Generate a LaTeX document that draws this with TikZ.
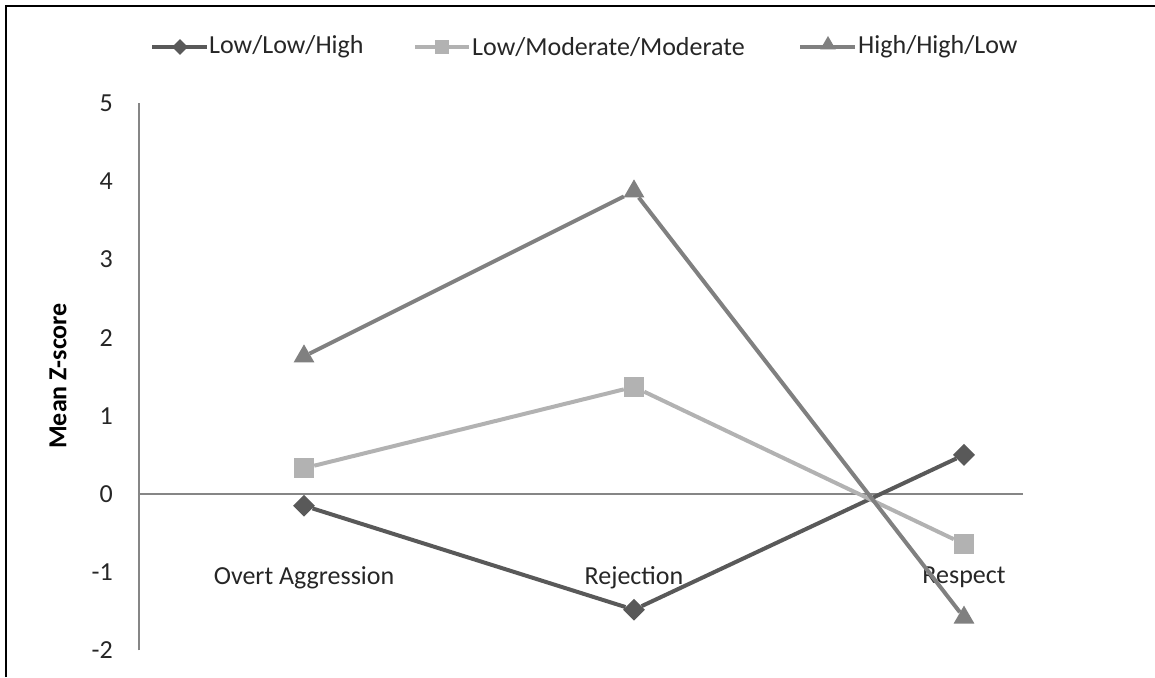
\documentclass[tikz,border=0pt]{standalone}
\usepackage{fontspec}
\setmainfont{Carlito}
\usetikzlibrary{shapes.geometric}
\definecolor{serA}{HTML}{595959}
\definecolor{serB}{HTML}{B2B2B2}
\definecolor{serC}{HTML}{808080}
\definecolor{axisgray}{HTML}{868686}
\tikzset{
  lbl/.style={font=\fontsize{26}{30}\selectfont, text=black!85, inner sep=0pt},
  markA/.style={diamond, fill=serA, minimum size=22pt, inner sep=0pt},
  markB/.style={rectangle, fill=serB, minimum size=20pt, inner sep=0pt},
  markC/.style={regular polygon, regular polygon sides=3, fill=serC, minimum size=24pt, inner sep=0pt},
  lineA/.style={line width=4pt, serA},
  lineB/.style={line width=4pt, serB},
  lineC/.style={line width=4pt, serC},
}
\begin{document}
\begin{tikzpicture}[x=1pt,y=1pt]
        \useasboundingbox (0,0) rectangle (1155,677);
        %frame
        \draw[line width=2pt] (6,0) -- (6,671) -- (1155,671);

        %legend
        \coordinate (la1) at (152,630);
        \coordinate (la2) at (207,630);
        \coordinate (lb1) at (415,630);
        \coordinate (lb2) at (469,630);
        \coordinate (lc1) at (800,630);
        \coordinate (lc2) at (855,630);
        \draw[lineA] (la1) -- (la2);
        \draw[lineB] (lb1) -- (lb2);
        \draw[lineC] (lc1) -- (lc2);
        \node[markA, minimum size=16pt] (lma) at (180,630) {};
        \node[markB, minimum size=14pt] (lmb) at (442,630) {};
        \node[markC, minimum size=18pt] (lmc) at (828,632) {};
        \node[lbl, anchor=west] (lta) at (209,630) {Low/Low/High};
        \node[lbl, anchor=west] (ltb) at (472,630) {Low/Moderate/Moderate};
        \node[lbl, anchor=west] (ltc) at (858,630) {High/High/Low};

        %y label
        \node[lbl, font=\fontsize{26}{30}\selectfont\bfseries, text=black, rotate=90] (ylab) at (58,301) {Mean Z-score};

        \begin{scope}[shift={(139,183)}, x=330pt, y=78.2pt]
        %axes
        \coordinate (ybot) at (0,-2);
        \coordinate (ytop) at (0,5);
        \coordinate (x0) at (0,0);
        \coordinate (x1) at (2.68,0);
        \draw[axisgray, line width=1.2pt] (ybot) -- (ytop);
        \draw[axisgray, line width=1.2pt] (x0) -- (x1);
        \foreach \v in {-2,...,5}
            \node[lbl, anchor=east] (tick\v) at ([xshift=-26pt]0,\v) {\v};

        %category labels
        \node[lbl] (catA) at (0.5,-1.07) {Overt Aggression};
        \node[lbl] (catB) at (1.5,-1.07) {Rejection};
        \node[lbl] (catC) at (2.5,-1.07) {Respect};

        %data points
        \node[markA] (a1) at (0.5,-0.15) {};
        \node[markA] (a2) at (1.5,-1.48) {};
        \node[markA] (a3) at (2.5,0.50) {};
        \node[markB] (b1) at (0.5,0.33) {};
        \node[markB] (b2) at (1.5,1.37) {};
        \node[markB] (b3) at (2.5,-0.64) {};
        \node[markC] (c1) at (0.5,1.76) {};
        \node[markC] (c2) at (1.5,3.87) {};
        \node[markC] (c3) at (2.5,-1.58) {};

        %series lines
        \draw[lineA] (a1) -- (a2) -- (a3);
        \draw[lineB] (b1) -- (b2) -- (b3);
        \draw[lineC] (c1) -- (c2) -- (c3);
        \end{scope}
\end{tikzpicture}
\end{document}
